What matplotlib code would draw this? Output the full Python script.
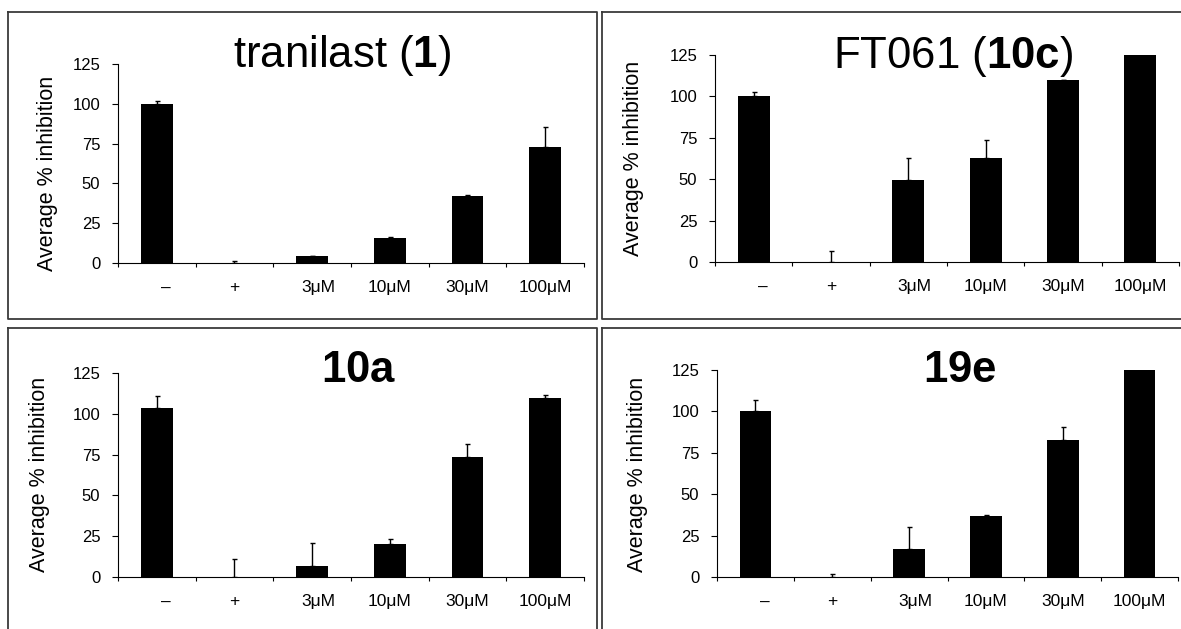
import numpy as np
import matplotlib
matplotlib.use("Agg")
import matplotlib.pyplot as plt
import matplotlib.transforms as mtransforms
from matplotlib.lines import Line2D

plt.rcParams['font.family'] = ['Liberation Sans', 'DejaVu Sans']
plt.rcParams['mathtext.fontset'] = 'custom'
plt.rcParams['mathtext.rm'] = 'Liberation Sans'
plt.rcParams['mathtext.bf'] = 'Liberation Sans:bold'

# data
categories = ['–', '+', '3μM', '10μM', '30μM', '100μM']
yticks = [0, 25, 50, 75, 100, 125]

tranilast_vals = [100.1, 0, 4.2, 15.9, 42.1, 72.9]
tranilast_err = [1.7, 1.5, 0.4, 0.4, 0.8, 12.3]

ft061_vals = [100.1, 0, 49.6, 62.9, 109.7, 126]
ft061_err = [2.6, 6.4, 13.5, 10.7, 0.4, 0]

c10a_vals = [103.3, 0, 6.8, 20.3, 73.6, 109.6]
c10a_err = [7.4, 11.1, 14.3, 3.1, 7.8, 2.1]

c19e_vals = [100.2, 0, 16.7, 37.1, 82.5, 126]
c19e_err = [6.5, 1.8, 13.3, 0.2, 8.2, 0]

W, H = 1181, 629
fig = plt.figure(figsize=(W / 100, H / 100), dpi=100)


def px_axes(x0, x1, ytop, ybot):
    return fig.add_axes([x0 / W, 1 - ybot / H, (x1 - x0) / W, (ybot - ytop) / H])


panels = [
    # title, vals, err, axes box (x0, x1, ytop, ybot), title pos, ylabel centre
    (r'tranilast ($\mathbf{1}$)', tranilast_vals, tranilast_err,
     (118, 584, 64, 263), (342, 67), 48, 173),
    (r'FT061 ($\mathbf{10c}$)', ft061_vals, ft061_err,
     (715, 1179, 55, 262), (953, 68), 633, 158),
    (r'$\mathbf{10a}$', c10a_vals, c10a_err,
     (118, 584, 373, 577), (359, 382), 40, 474),
    (r'$\mathbf{19e}$', c19e_vals, c19e_err,
     (717, 1178, 370, 577), (960, 382), 637, 474),
]

# the "–" and "3μM" labels sit a little right of their bars in the original
label_shift = {'–': 9, '3μM': 6}

x = np.arange(len(categories))

for title, vals, err, box, tpos, ylx, yly in panels:
    ax = px_axes(*box)
    ax.bar(x, vals, width=0.41, color='black', zorder=2)
    ax.errorbar(x, vals, yerr=[np.zeros(len(err)), err], fmt='none',
                ecolor='black', elinewidth=1, capsize=1.8, capthick=1, zorder=3)
    ax.set_xlim(-0.5, 5.5)
    ax.set_ylim(0, 125)
    ax.set_yticks(yticks)
    ax.tick_params(axis='y', direction='out', length=4.3, width=0.8,
                   labelsize=12, pad=8.4)
    ax.set_xticks(np.arange(-0.5, 6, 1))
    ax.set_xticklabels([])
    ax.tick_params(axis='x', which='major', direction='out', length=3, width=0.8)
    ax.set_xticks(x, minor=True)
    ax.set_xticklabels(categories, minor=True)
    ax.tick_params(axis='x', which='minor', length=0, labelsize=12.5, pad=12.5)
    for lab in ax.get_xticklabels(minor=True):
        dx = label_shift.get(lab.get_text(), 0)
        if dx:
            lab.set_transform(lab.get_transform() +
                              mtransforms.ScaledTranslation(dx / 100, 0, fig.dpi_scale_trans))
    for s in ['top', 'right']:
        ax.spines[s].set_visible(False)
    for s in ['left', 'bottom']:
        ax.spines[s].set_linewidth(0.8)
    fig.text(tpos[0] / W, 1 - tpos[1] / H, title, fontsize=31.5,
             ha='center', va='baseline')
    fig.text(ylx / W, 1 - yly / H, 'Average % inhibition', fontsize=15.5,
             rotation=90, ha='center', va='center')

# panel frames
frame = dict(color='#3a3a3a', linewidth=1.3, transform=fig.transFigure)
for (x0, x1) in [(8, 597), (602, 1190)]:
    for (y0, y1) in [(12, 319), (328, 640)]:
        xs = [x0 / W, x1 / W, x1 / W, x0 / W, x0 / W]
        ys = [1 - y0 / H, 1 - y0 / H, 1 - y1 / H, 1 - y1 / H, 1 - y0 / H]
        fig.add_artist(Line2D(xs, ys, **frame))

fig.savefig('out.png', dpi=100)
